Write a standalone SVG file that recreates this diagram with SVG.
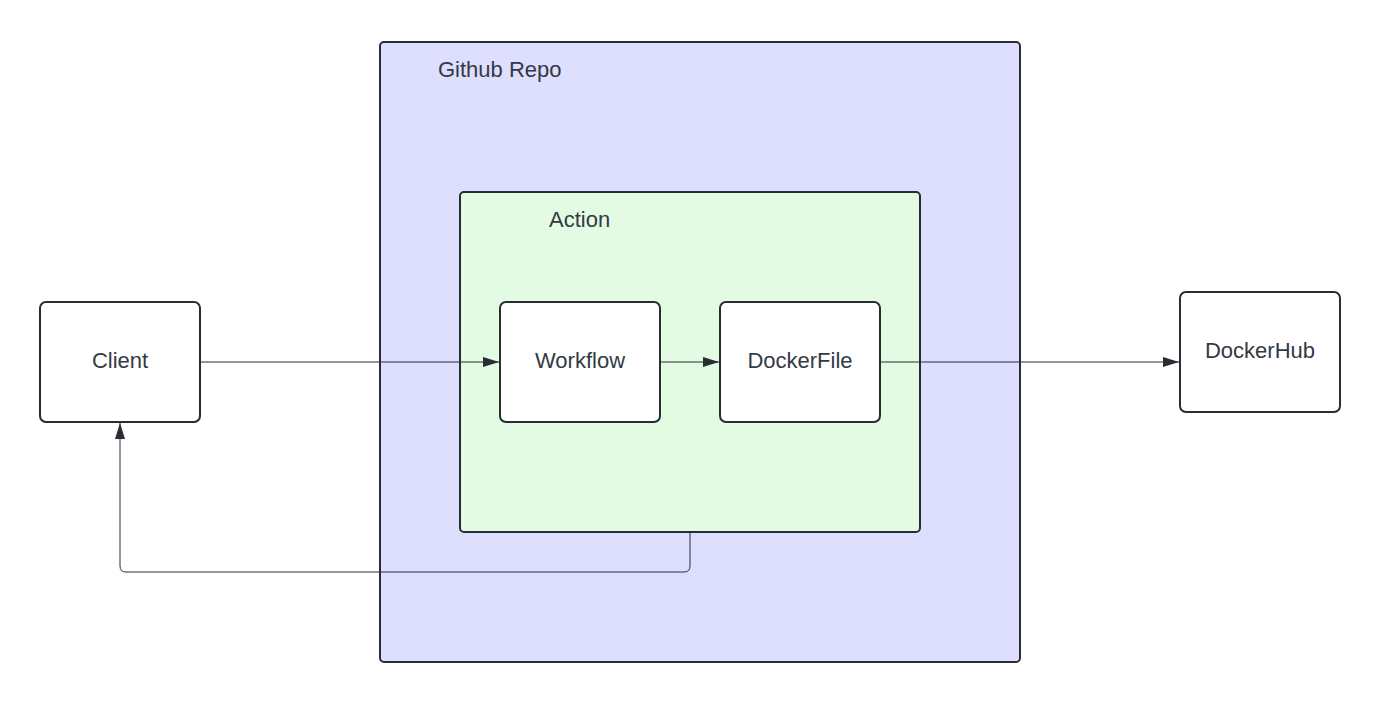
<svg xmlns="http://www.w3.org/2000/svg" width="1380" height="702" viewBox="0 0 1380 702">
<style>
.box{stroke:#282c33;stroke-width:2;}
.lbl{font-family:"Liberation Sans",Arial,sans-serif;font-size:22px;fill:#333a44;}
.c{text-anchor:middle;}
.edge{fill:none;stroke:#282c33;stroke-width:1;}
</style>
<defs>
<marker id="arr" viewBox="0 0 16 10" refX="16" refY="5" markerWidth="16" markerHeight="10" markerUnits="userSpaceOnUse" orient="auto">
<path d="M0,0 L16,5 L0,10 Z" fill="#282c33"/>
</marker>
</defs>
<rect width="1380" height="702" fill="#ffffff"/>
<g id="github-repo">
<rect class="box" x="380" y="42" width="640" height="620" rx="4" fill="#dedeff"/>
<text class="lbl" x="438" y="77">Github Repo</text>
</g>
<g id="action">
<rect class="box" x="460" y="192" width="460" height="340" rx="4" fill="#e3fae3"/>
<text class="lbl" x="549" y="227">Action</text>
</g>
<g id="client">
<rect class="box" x="40" y="302" width="160" height="120" rx="6" fill="#ffffff"/>
<text class="lbl c" x="120" y="368">Client</text>
</g>
<g id="workflow">
<rect class="box" x="500" y="302" width="160" height="120" rx="6" fill="#ffffff"/>
<text class="lbl c" x="580" y="368">Workflow</text>
</g>
<g id="dockerfile">
<rect class="box" x="720" y="302" width="160" height="120" rx="6" fill="#ffffff"/>
<text class="lbl c" x="800" y="368">DockerFile</text>
</g>
<g id="dockerhub">
<rect class="box" x="1180" y="292" width="160" height="120" rx="6" fill="#ffffff"/>
<text class="lbl c" x="1260" y="358">DockerHub</text>
</g>
<g id="connectors">
<path class="edge" d="M201,362 L499,362" marker-end="url(#arr)"/>
<path class="edge" d="M661,362 L719,362" marker-end="url(#arr)"/>
<path class="edge" d="M881,362 L1179,362" marker-end="url(#arr)"/>
<path class="edge" d="M690,533 L690,566 Q690,572 684,572 L126,572 Q120,572 120,566 L120,423" marker-end="url(#arr)"/>
</g>
</svg>
